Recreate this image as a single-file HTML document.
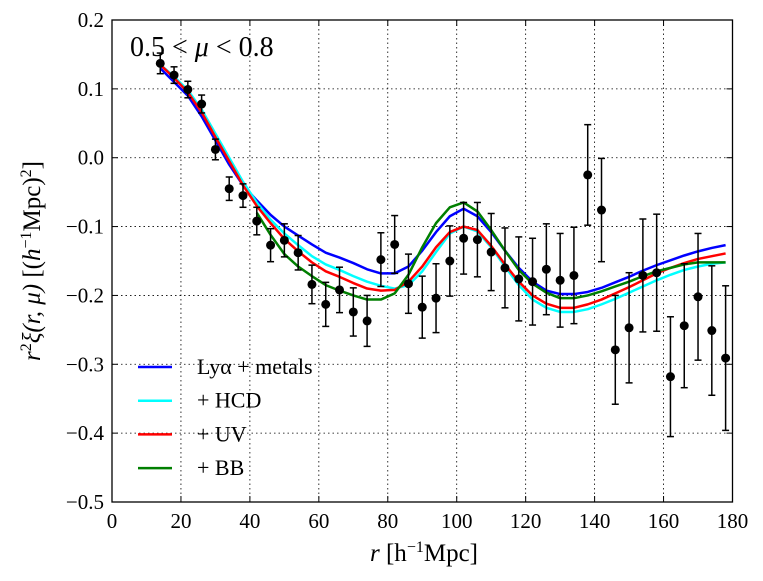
<!DOCTYPE html>
<html><head><meta charset="utf-8"><style>
html,body{margin:0;padding:0;background:#fff;}
svg{display:block;}
text{font-family:"Liberation Serif","DejaVu Serif",serif;}
</style></head><body>
<svg id="chart" width="763" height="581" viewBox="0 0 763 581" xmlns="http://www.w3.org/2000/svg">
<rect width="763" height="581" fill="#fff"/>
<g id="grid"></g>
<g id="models"></g>
<g id="data"></g>
<rect x="112" y="20" width="620.5" height="482" fill="none" stroke="#000" stroke-width="1.3"/>
<g id="ticks"></g>
<text x="130" y="56" font-size="28">0.5 &lt; <tspan font-style="italic">μ</tspan> &lt; 0.8</text>
<text x="424" y="561" font-size="25" text-anchor="middle"><tspan font-style="italic">r</tspan> [h<tspan dy="-9" font-size="16">−1</tspan><tspan dy="9">Mpc]</tspan></text>
<text transform="translate(40,261) rotate(-90)" font-size="25" text-anchor="middle"><tspan font-style="italic">r</tspan><tspan dy="-9" font-size="16">2</tspan><tspan dy="9" font-style="italic">ξ(r, μ)</tspan> [(<tspan font-style="italic">h</tspan><tspan dy="-9" font-size="16">−1</tspan><tspan dy="9">Mpc)</tspan><tspan dy="-9" font-size="16">2</tspan><tspan dy="9">]</tspan></text>
<g id="legend"></g>
</svg>
<script>
const rVals=[14,18,22,26,30,34,38,42,46,50,54,58,62,66,70,74,78,82,86,90,94,98,102,106,110,114,118,122,126,130,134,138,142,146,150,154,158,162,166,170,174,178];
const dataY=[0.137,0.12,0.099,0.078,0.012,-0.045,-0.055,-0.092,-0.127,-0.12,-0.138,-0.184,-0.213,-0.192,-0.224,-0.237,-0.148,-0.126,-0.183,-0.217,-0.204,-0.150,-0.117,-0.119,-0.137,-0.160,-0.176,-0.180,-0.162,-0.178,-0.171,-0.025,-0.076,-0.279,-0.247,-0.171,-0.167,-0.318,-0.244,-0.202,-0.251,-0.291];
const dataErr=[0.015,0.012,0.012,0.013,0.015,0.017,0.017,0.02,0.024,0.024,0.025,0.028,0.032,0.033,0.035,0.037,0.039,0.042,0.043,0.045,0.05,0.051,0.052,0.054,0.056,0.058,0.061,0.063,0.066,0.068,0.07,0.073,0.075,0.079,0.08,0.082,0.085,0.087,0.09,0.092,0.094,0.105];
const blueY=[0.13,0.11,0.09,0.06,0.025,-0.01,-0.04,-0.062,-0.083,-0.1,-0.113,-0.126,-0.138,-0.145,-0.153,-0.162,-0.168,-0.168,-0.158,-0.135,-0.108,-0.085,-0.074,-0.085,-0.108,-0.135,-0.16,-0.18,-0.193,-0.198,-0.198,-0.195,-0.189,-0.181,-0.173,-0.164,-0.156,-0.149,-0.142,-0.136,-0.131,-0.127];
const cyanY=[0.135,0.118,0.098,0.07,0.035,0.0,-0.035,-0.065,-0.09,-0.11,-0.127,-0.143,-0.155,-0.163,-0.172,-0.18,-0.186,-0.19,-0.185,-0.165,-0.137,-0.11,-0.1,-0.107,-0.13,-0.158,-0.185,-0.206,-0.218,-0.224,-0.224,-0.22,-0.213,-0.205,-0.196,-0.187,-0.178,-0.17,-0.163,-0.158,-0.154,-0.152];
const redY=[0.135,0.116,0.095,0.066,0.03,-0.005,-0.04,-0.07,-0.095,-0.118,-0.136,-0.152,-0.165,-0.173,-0.182,-0.19,-0.193,-0.192,-0.18,-0.158,-0.13,-0.108,-0.1,-0.105,-0.128,-0.155,-0.18,-0.2,-0.212,-0.218,-0.218,-0.213,-0.206,-0.197,-0.188,-0.178,-0.168,-0.16,-0.153,-0.147,-0.143,-0.139];
const greenR=[42,46,50,54,58,62,66,70,74,78,82,86,90,94,98,102,106,110,114,118,122,126,130,134,138,142,146,150,154,158,162,166,170,174,178];
const greenY=[-0.08,-0.112,-0.14,-0.158,-0.172,-0.185,-0.193,-0.2,-0.206,-0.206,-0.197,-0.17,-0.13,-0.095,-0.072,-0.065,-0.078,-0.105,-0.135,-0.163,-0.183,-0.196,-0.204,-0.204,-0.2,-0.194,-0.187,-0.18,-0.172,-0.165,-0.16,-0.155,-0.152,-0.152,-0.152];
const xTicks=[0,20,40,60,80,100,120,140,160,180];
const yTicks=[0.2,0.1,0.0,-0.1,-0.2,-0.3,-0.4,-0.5];
const yTickLabels=["0.2","0.1","0.0","−0.1","−0.2","−0.3","−0.4","−0.5"];
const legendLabels=["Lyα + metals","+ HCD","+ UV","+ BB"];
const legendColors=["#0000ff","#00ffff","#ff0000","#007f00"];

const X0=112,X1=732.5,Y0=502,Y1=20;
const xs=v=>X0+(v-0)/180*(X1-X0);
const ys=v=>Y0-(v+0.5)/0.7*(Y0-Y1);
const NS="http://www.w3.org/2000/svg";
function mk(tag,attrs,parent){const e=document.createElementNS(NS,tag);for(const k in attrs)e.setAttribute(k,attrs[k]);parent.appendChild(e);return e;}
const grid=document.getElementById('grid'),ticks=document.getElementById('ticks');
xTicks.forEach((t,i)=>{
  if(i>0&&i<xTicks.length-1){const l=mk('line',{x1:xs(t),x2:xs(t),y1:Y1,y2:Y0,stroke:'#000','stroke-width':0.8,'stroke-dasharray':'1.5,3'},grid);
  
  }
  mk('line',{x1:xs(t),x2:xs(t),y1:Y0,y2:Y0-6,stroke:'#000'},ticks);
  mk('line',{x1:xs(t),x2:xs(t),y1:Y1,y2:Y1+6,stroke:'#000'},ticks);
  const tx=mk('text',{x:xs(t),y:Y0+26,'font-size':21,'text-anchor':'middle'},ticks);
  tx.textContent=t;
  
  
});
yTicks.forEach((t,i)=>{
  if(i>0&&i<yTicks.length-1){const l=mk('line',{x1:X0,x2:X1,y1:ys(t),y2:ys(t),stroke:'#000','stroke-width':0.8,'stroke-dasharray':'1.5,3'},grid);
  
  }
  mk('line',{x1:X0,x2:X0+6,y1:ys(t),y2:ys(t),stroke:'#000'},ticks);
  mk('line',{x1:X1,x2:X1-6,y1:ys(t),y2:ys(t),stroke:'#000'},ticks);
  const tx=mk('text',{x:X0-8,y:ys(t)+7,'font-size':21,'text-anchor':'end'},ticks);
  tx.textContent=yTickLabels[i];
  
  
});
const models=document.getElementById('models');
function line(rs,vs,color,name){
  const p=mk('polyline',{points:rs.map((r,i)=>xs(r)+','+ys(vs[i])).join(' '),fill:'none',stroke:color,'stroke-width':2.5,'stroke-linejoin':'round'},models);
  
  
}
line(rVals,blueY,legendColors[0],'lya-metals-line');
line(rVals,cyanY,legendColors[1],'hcd-line');
line(rVals,redY,legendColors[2],'uv-line');
line(greenR,greenY,legendColors[3],'bb-line');
const dg=document.getElementById('data');
rVals.forEach((r,i)=>{
  const x=xs(r),yt=ys(dataY[i]+dataErr[i]),yb=ys(dataY[i]-dataErr[i]);
  mk('line',{x1:x,x2:x,y1:yt,y2:yb,stroke:'#000','stroke-width':1.5},dg);
  mk('line',{x1:x-3.5,x2:x+3.5,y1:yt,y2:yt,stroke:'#000','stroke-width':1.5},dg);
  mk('line',{x1:x-3.5,x2:x+3.5,y1:yb,y2:yb,stroke:'#000','stroke-width':1.5},dg);
  const c=mk('circle',{cx:x,cy:ys(dataY[i]),r:4.5,fill:'#000'},dg);
  
  
});
const lg=document.getElementById('legend');
legendLabels.forEach((lab,i)=>{
  const y=367+i*33.7;
  mk('line',{x1:138,x2:172,y1:y,y2:y,stroke:legendColors[i],'stroke-width':2.5},lg);
  const t=mk('text',{x:197,y:y+7,'font-size':22},lg);
  t.textContent=lab;
  
  
});
</script>
</body></html>
